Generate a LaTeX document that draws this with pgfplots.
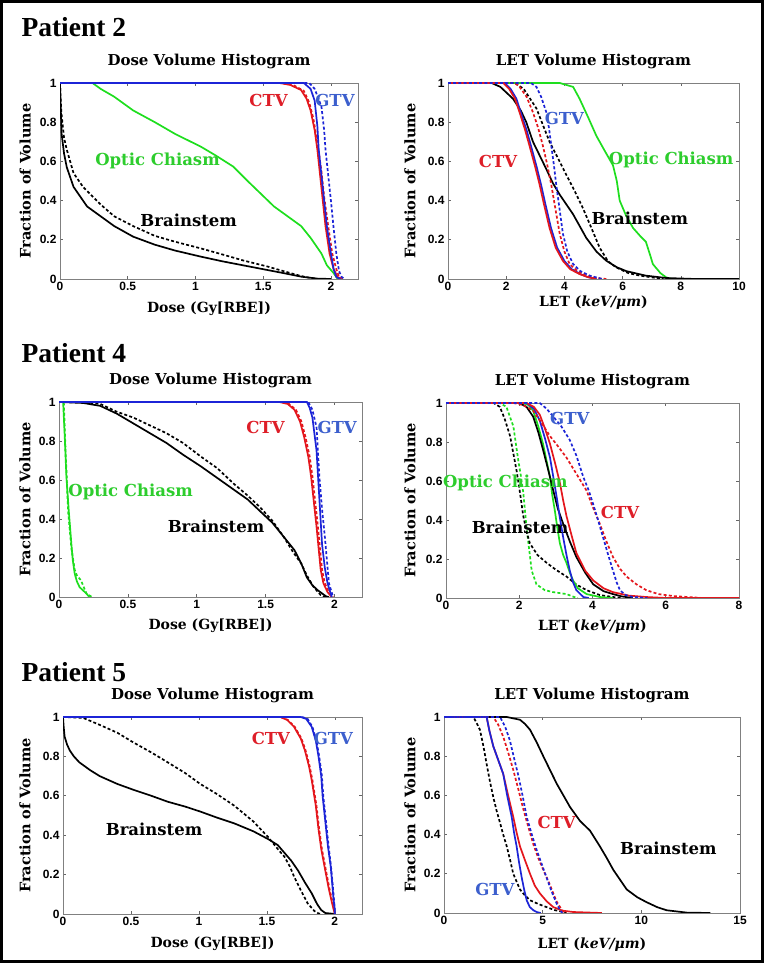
\documentclass[border=0pt]{standalone}
\usepackage{fontspec}
\setmainfont{Liberation Serif}
\newfontfamily\dv{DejaVu Serif}
\newfontfamily\tk{Liberation Sans}
\usepackage{pgfplots}
\pgfplotsset{compat=1.18}
\definecolor{mred}{RGB}{228,22,28}
\definecolor{mblue}{RGB}{28,36,215}
\definecolor{mgreen}{RGB}{30,222,30}
\definecolor{lred}{RGB}{222,30,40}
\definecolor{lblue}{RGB}{60,95,205}
\definecolor{lgreen}{RGB}{45,205,45}
\tikzset{
  dsh/.style={dash pattern=on 3pt off 2.2pt},
  cl/.style={font=\dv\bfseries\fontsize{16.5}{17}\selectfont},
}
\pgfplotsset{
  hist/.style={scale only axis, anchor=south west, xmin=0, ymin=0, ymax=1,
    ytick={0,0.2,0.4,0.6,0.8,1}, yticklabels={0,0.2,0.4,0.6,0.8,1},
    axis line style={black!50}, every tick/.style={black!60, line width=0.6pt},
    tick align=inside, major tick length=3pt,
    ticklabel style={font=\tk\bfseries\fontsize{12}{12}\selectfont},
    /pgf/number format/assume math mode=true,
    title style={font=\dv\bfseries\fontsize{15}{15}\selectfont, at={(0.5,1)}, anchor=base, yshift=11pt},
    xlabel style={font=\dv\bfseries\fontsize{14}{15}\selectfont, at={(axis description cs:0.5,0)}, anchor=base},
    ylabel style={font=\dv\bfseries\fontsize{14.5}{15}\selectfont, anchor=center},
    ylabel={Fraction of Volume},
    clip mode=individual,
    every axis plot/.append style={line width=1.7pt, no marks},
  },
  dose/.style={hist, xmax=2.2, xtick={0,0.5,1,1.5,2}, xticklabels={0,0.5,1,1.5,2},
    title={Dose Volume Histogram}, xlabel={Dose (Gy[RBE])}},
  let/.style={hist, title={LET Volume Histogram}, xlabel={LET ({\itshape keV/μm})}},
}
\begin{document}
\begin{tikzpicture}[x=1pt,y=1pt]
\useasboundingbox (0pt,0pt) rectangle (765pt,966pt);
\fill[white] (0pt,0pt) rectangle (765pt,966pt);
\draw[line width=3pt] (1.5pt,4.5pt) rectangle (762.5pt,964.5pt);
\node[anchor=base west, font=\bfseries\fontsize{27.5}{28}\selectfont] at (18pt,929pt) {Patient 2};
\node[anchor=base west, font=\bfseries\fontsize{27.5}{28}\selectfont] at (18pt,603pt) {Patient 4};
\node[anchor=base west, font=\bfseries\fontsize{27.5}{28}\selectfont] at (18pt,284pt) {Patient 5};

% ---------- Patient 2 DVH
\begin{axis}[dose, at={(60pt,687pt)}, width=298pt, height=196pt,
  ylabel style={at={(axis description cs:-0.117,0.5)}}, xlabel style={yshift=-34pt}]
\addplot[black] coordinates {(0,1)(0.005,0.88)(0.012,0.74)(0.03,0.64)(0.05,0.57)(0.1,0.47)(0.15,0.42)(0.2,0.37)(0.3,0.32)(0.4,0.27)(0.54,0.216)(0.7,0.175)(0.85,0.145)(1.04,0.114)(1.2,0.09)(1.35,0.07)(1.53,0.046)(1.65,0.03)(1.78,0.012)(1.9,0.002)(2.0,0)};
\addplot[black,dsh] coordinates {(0,1)(0.01,0.85)(0.03,0.72)(0.05,0.66)(0.1,0.54)(0.17,0.47)(0.3,0.38)(0.4,0.32)(0.54,0.27)(0.7,0.22)(0.85,0.19)(1.04,0.156)(1.2,0.125)(1.35,0.095)(1.53,0.064)(1.65,0.04)(1.78,0.015)(1.85,0.005)(1.9,0)};
\addplot[mgreen] coordinates {(0,1)(0.24,1)(0.3,0.97)(0.4,0.93)(0.54,0.86)(0.7,0.8)(0.85,0.74)(1.04,0.675)(1.15,0.63)(1.28,0.573)(1.4,0.49)(1.58,0.37)(1.7,0.31)(1.78,0.27)(1.85,0.21)(1.93,0.13)(1.97,0.07)(2.02,0.03)(2.05,0)};
\addplot[mred] coordinates {(0,1)(1.62,1)(1.7,0.99)(1.78,0.964)(1.82,0.92)(1.85,0.86)(1.88,0.76)(1.90,0.66)(1.92,0.53)(1.94,0.40)(1.96,0.27)(1.99,0.13)(2.02,0.05)(2.05,0.01)(2.08,0)};
\addplot[mred,dsh] coordinates {(0,1)(1.64,1)(1.72,0.99)(1.8,0.96)(1.84,0.9)(1.87,0.82)(1.9,0.7)(1.93,0.55)(1.95,0.42)(1.98,0.27)(2.01,0.13)(2.04,0.05)(2.06,0.01)(2.09,0)};
\addplot[mblue] coordinates {(0,1)(1.8,1)(1.85,0.97)(1.88,0.91)(1.9,0.78)(1.91,0.66)(1.93,0.53)(1.95,0.40)(1.97,0.27)(2.0,0.13)(2.02,0.05)(2.04,0.01)(2.07,0)};
\addplot[mblue,dsh] coordinates {(0,1)(1.84,1)(1.88,0.97)(1.93,0.88)(1.95,0.76)(1.96,0.66)(1.98,0.53)(2.0,0.40)(2.02,0.26)(2.04,0.13)(2.06,0.04)(2.08,0.01)(2.1,0)};
\node[cl, text=lred] at (axis cs:1.54,0.91) {CTV};
\node[cl, text=lblue] at (axis cs:2.03,0.91) {GTV};
\node[cl, text=lgreen] at (axis cs:0.72,0.6) {Optic Chiasm};
\node[cl] at (axis cs:0.95,0.30) {Brainstem};
\end{axis}

% ---------- Patient 2 LET
\begin{axis}[let, at={(448pt,687pt)}, width=291pt, height=196pt, xmax=10,
  xtick={0,2,4,6,8,10}, xticklabels={0,2,4,6,8,10},
  ylabel style={at={(axis description cs:-0.131,0.5)}}, xlabel style={yshift=-28pt}]
\addplot[mgreen] coordinates {(0,1)(3.84,1)(4.3,0.98)(4.52,0.92)(4.8,0.83)(5.1,0.73)(5.4,0.65)(5.67,0.58)(5.8,0.5)(5.9,0.40)(6.1,0.33)(6.36,0.26)(6.6,0.22)(6.8,0.19)(6.95,0.12)(7.04,0.076)(7.3,0.03)(7.5,0.008)(7.7,0)(10,0)};
\addplot[black] coordinates {(0,1)(1.5,1)(1.8,0.98)(2.23,0.92)(2.5,0.86)(2.69,0.80)(2.92,0.70)(3.15,0.63)(3.38,0.56)(3.6,0.49)(3.84,0.43)(4.3,0.33)(4.75,0.21)(5.1,0.14)(5.44,0.093)(5.8,0.06)(6.13,0.04)(6.8,0.017)(7.5,0.005)(8.5,0)(10,0)};
\addplot[black,dsh] coordinates {(0,1)(2.3,1)(2.6,0.97)(3.04,0.87)(3.25,0.79)(3.49,0.70)(3.8,0.61)(4.07,0.53)(4.35,0.45)(4.64,0.36)(4.9,0.27)(5.21,0.16)(5.5,0.09)(5.78,0.059)(6.2,0.03)(6.6,0.017)(7.4,0)};
\addplot[mblue] coordinates {(0,1)(1.95,1)(2.15,0.97)(2.35,0.92)(2.5,0.85)(2.7,0.76)(2.85,0.68)(3.05,0.57)(3.2,0.48)(3.35,0.38)(3.54,0.26)(3.75,0.16)(4.0,0.092)(4.25,0.05)(4.55,0.025)(4.8,0.01)(5.1,0)};
\addplot[mred] coordinates {(0,1)(1.9,1)(2.1,0.97)(2.3,0.92)(2.46,0.85)(2.65,0.76)(2.8,0.68)(3.0,0.57)(3.15,0.48)(3.3,0.38)(3.49,0.26)(3.7,0.16)(3.95,0.092)(4.2,0.05)(4.52,0.025)(4.8,0.01)(5.1,0)};
\addplot[mred,dsh] coordinates {(0,1)(2.3,1)(2.46,0.98)(2.7,0.93)(2.92,0.85)(3.1,0.77)(3.26,0.68)(3.4,0.59)(3.55,0.48)(3.7,0.35)(3.84,0.23)(4.0,0.14)(4.18,0.076)(4.45,0.04)(4.75,0.017)(5.1,0.005)(5.44,0)};
\addplot[mblue,dsh] coordinates {(0,1)(2.85,1)(3.04,0.98)(3.2,0.93)(3.38,0.85)(3.47,0.77)(3.55,0.68)(3.64,0.58)(3.72,0.48)(3.84,0.35)(3.95,0.23)(4.1,0.14)(4.3,0.076)(4.55,0.04)(4.87,0.017)(5.3,0)};
\node[cl, text=lblue] at (axis cs:4.0,0.82) {GTV};
\node[cl, text=lred] at (axis cs:1.72,0.6) {CTV};
\node[cl, text=lgreen] at (axis cs:7.67,0.605) {Optic Chiasm};
\node[cl] at (axis cs:6.59,0.31) {Brainstem};
\end{axis}

% ---------- Patient 4 DVH
\begin{axis}[dose, at={(59pt,369pt)}, width=303pt, height=195pt,
  ylabel style={at={(axis description cs:-0.112,0.5)}}, xlabel style={yshift=-33pt}]
\addplot[mgreen] coordinates {(0,1)(0.03,1)(0.04,0.85)(0.054,0.615)(0.07,0.45)(0.09,0.27)(0.1,0.19)(0.114,0.12)(0.13,0.08)(0.15,0.05)(0.2,0.017)(0.22,0)};
\addplot[mgreen,dsh] coordinates {(0,1)(0.035,1)(0.045,0.8)(0.066,0.44)(0.09,0.25)(0.114,0.14)(0.13,0.11)(0.16,0.085)(0.18,0.05)(0.2,0.017)(0.24,0)};
\addplot[black] coordinates {(0,1)(0.175,0.995)(0.3,0.98)(0.42,0.94)(0.54,0.89)(0.66,0.84)(0.78,0.79)(0.9,0.73)(1.03,0.67)(1.15,0.61)(1.27,0.55)(1.37,0.5)(1.46,0.44)(1.55,0.38)(1.63,0.31)(1.71,0.24)(1.76,0.17)(1.8,0.10)(1.84,0.06)(1.88,0.034)(1.94,0.003)(1.96,0)};
\addplot[black,dsh] coordinates {(0,1)(0.2,0.998)(0.3,0.99)(0.42,0.95)(0.54,0.92)(0.66,0.88)(0.78,0.84)(0.9,0.79)(1.03,0.72)(1.15,0.66)(1.27,0.58)(1.37,0.52)(1.46,0.46)(1.55,0.39)(1.63,0.31)(1.7,0.23)(1.76,0.17)(1.8,0.11)(1.85,0.05)(1.9,0.01)(1.93,0)};
\addplot[mred] coordinates {(0,1)(1.6,1)(1.66,0.99)(1.71,0.96)(1.75,0.9)(1.78,0.82)(1.81,0.72)(1.83,0.62)(1.85,0.49)(1.87,0.36)(1.885,0.25)(1.9,0.14)(1.92,0.07)(1.95,0.025)(1.98,0)};
\addplot[mred,dsh] coordinates {(0,1)(1.61,1)(1.67,0.99)(1.72,0.96)(1.76,0.9)(1.79,0.82)(1.82,0.72)(1.84,0.62)(1.86,0.49)(1.88,0.36)(1.895,0.25)(1.91,0.14)(1.93,0.07)(1.96,0.025)(1.99,0)};
\addplot[mblue] coordinates {(0,1)(1.8,1)(1.82,0.97)(1.84,0.92)(1.87,0.75)(1.89,0.51)(1.91,0.27)(1.93,0.15)(1.95,0.07)(1.98,0)};
\addplot[mblue,dsh] coordinates {(0,1)(1.81,1)(1.84,0.96)(1.87,0.87)(1.89,0.62)(1.91,0.45)(1.93,0.31)(1.95,0.15)(1.96,0.07)(1.99,0)};
\node[cl, text=lred] at (axis cs:1.5,0.87) {CTV};
\node[cl, text=lblue] at (axis cs:2.02,0.87) {GTV};
\node[cl, text=lgreen] at (axis cs:0.52,0.54) {Optic Chiasm};
\node[cl] at (axis cs:1.14,0.36) {Brainstem};
\end{axis}

% ---------- Patient 4 LET
\begin{axis}[let, at={(446pt,368pt)}, width=293pt, height=195pt, xmax=8,
  xtick={0,2,4,6,8}, xticklabels={0,2,4,6,8},
  ylabel style={at={(axis description cs:-0.123,0.5)}}, xlabel style={yshift=-33pt}]
\addplot[mgreen,dsh] coordinates {(0,1)(1.47,1)(1.65,0.98)(1.84,0.88)(1.97,0.71)(2.05,0.62)(2.11,0.54)(2.2,0.36)(2.27,0.25)(2.34,0.14)(2.47,0.07)(2.7,0.04)(2.93,0.03)(3.29,0.02)(3.5,0.005)(3.6,0)};
\addplot[black,dsh] coordinates {(0,1)(1.3,1)(1.47,0.98)(1.6,0.92)(1.75,0.83)(1.93,0.65)(2.02,0.54)(2.11,0.42)(2.2,0.34)(2.29,0.28)(2.5,0.22)(2.75,0.18)(3.0,0.145)(3.29,0.11)(3.55,0.07)(3.84,0.04)(4.2,0.015)(4.56,0.005)(4.8,0)};
\addplot[mgreen] coordinates {(0,1)(2.1,1)(2.25,0.99)(2.38,0.96)(2.52,0.88)(2.65,0.79)(2.75,0.70)(2.84,0.62)(2.9,0.53)(2.97,0.45)(3.04,0.36)(3.11,0.28)(3.2,0.22)(3.29,0.18)(3.38,0.13)(3.47,0.09)(3.6,0.05)(3.84,0.02)(4.2,0.005)(4.56,0)};
\addplot[black] coordinates {(0,1)(2.0,1)(2.2,0.98)(2.38,0.93)(2.52,0.85)(2.65,0.76)(2.8,0.65)(2.93,0.55)(3.05,0.46)(3.2,0.38)(3.38,0.29)(3.56,0.21)(3.8,0.13)(4.02,0.07)(4.3,0.035)(4.56,0.02)(4.8,0.008)(5.1,0)};
\addplot[mblue] coordinates {(0,1)(2.2,1)(2.4,0.97)(2.56,0.91)(2.7,0.82)(2.84,0.72)(2.93,0.62)(3.02,0.52)(3.11,0.41)(3.2,0.31)(3.29,0.22)(3.38,0.14)(3.47,0.08)(3.56,0.04)(3.75,0.005)(3.9,0)};
\addplot[mred] coordinates {(0,1)(2.2,1)(2.4,0.98)(2.56,0.94)(2.7,0.87)(2.84,0.79)(2.98,0.69)(3.11,0.59)(3.2,0.5)(3.29,0.42)(3.43,0.32)(3.56,0.23)(3.8,0.14)(4.02,0.09)(4.3,0.05)(4.56,0.03)(5.0,0.012)(5.47,0.005)(6,0)(8,0)};
\addplot[mred,dsh] coordinates {(0,1)(1.84,1)(2.1,0.99)(2.38,0.96)(2.6,0.9)(2.84,0.83)(3.05,0.78)(3.29,0.72)(3.55,0.64)(3.84,0.55)(4.0,0.47)(4.2,0.38)(4.38,0.29)(4.56,0.21)(4.75,0.15)(4.93,0.11)(5.2,0.07)(5.47,0.04)(5.8,0.02)(6.2,0.01)(7,0)(8,0)};
\addplot[mblue,dsh] coordinates {(0,1)(2.56,1)(2.75,0.97)(2.93,0.93)(3.15,0.88)(3.38,0.81)(3.56,0.73)(3.75,0.62)(3.9,0.55)(4.02,0.48)(4.15,0.4)(4.29,0.31)(4.43,0.22)(4.56,0.14)(4.66,0.08)(4.75,0.04)(4.9,0.015)(5.1,0.005)(5.5,0)};
\node[cl, text=lblue] at (axis cs:3.38,0.92) {GTV};
\node[cl, text=lred] at (axis cs:4.75,0.44) {CTV};
\node[cl, text=lgreen] at (axis cs:1.62,0.59) {Optic Chiasm};
\node[cl] at (axis cs:2.02,0.36) {Brainstem};
\end{axis}

% ---------- Patient 5 DVH
\begin{axis}[dose, at={(63pt,52pt)}, width=299pt, height=197pt,
  ylabel style={at={(axis description cs:-0.127,0.5)}}, xlabel style={yshift=-34pt}]
\addplot[black] coordinates {(0,1)(0.005,0.95)(0.012,0.90)(0.03,0.86)(0.05,0.83)(0.08,0.8)(0.12,0.77)(0.2,0.73)(0.27,0.70)(0.4,0.66)(0.52,0.63)(0.65,0.6)(0.77,0.57)(0.9,0.545)(1.01,0.52)(1.13,0.49)(1.26,0.46)(1.4,0.42)(1.51,0.38)(1.58,0.35)(1.63,0.31)(1.68,0.27)(1.73,0.22)(1.78,0.16)(1.83,0.105)(1.87,0.05)(1.9,0.02)(1.93,0.005)(2.0,0)};
\addplot[black,dsh] coordinates {(0,1)(0.15,0.995)(0.27,0.96)(0.4,0.92)(0.52,0.87)(0.65,0.82)(0.77,0.77)(0.9,0.715)(1.01,0.66)(1.13,0.61)(1.26,0.55)(1.4,0.47)(1.51,0.39)(1.58,0.33)(1.63,0.29)(1.67,0.24)(1.7,0.19)(1.75,0.12)(1.8,0.054)(1.85,0.015)(1.88,0.003)(1.9,0)};
\addplot[mred] coordinates {(0,1)(1.6,1)(1.65,0.985)(1.7,0.95)(1.75,0.89)(1.78,0.83)(1.81,0.75)(1.83,0.68)(1.86,0.55)(1.88,0.43)(1.9,0.33)(1.93,0.22)(1.955,0.13)(1.98,0.054)(2.0,0)};
\addplot[mred,dsh] coordinates {(0,1)(1.6,1)(1.655,0.985)(1.705,0.95)(1.755,0.89)(1.785,0.83)(1.815,0.75)(1.835,0.68)(1.865,0.55)(1.885,0.43)(1.905,0.33)(1.935,0.22)(1.96,0.13)(1.985,0.054)(2.0,0)};
\addplot[mblue] coordinates {(0,1)(1.75,1)(1.79,0.99)(1.83,0.95)(1.86,0.88)(1.88,0.80)(1.9,0.70)(1.91,0.60)(1.93,0.47)(1.95,0.34)(1.97,0.24)(1.98,0.16)(1.99,0.08)(2.0,0.02)(2.0,0)};
\addplot[mblue,dsh] coordinates {(0,1)(1.76,1)(1.8,0.99)(1.835,0.95)(1.865,0.88)(1.885,0.80)(1.905,0.70)(1.915,0.60)(1.935,0.47)(1.955,0.34)(1.972,0.24)(1.983,0.16)(1.993,0.08)(2.0,0.02)(2.0,0)};
\node[cl, text=lred] at (axis cs:1.53,0.89) {CTV};
\node[cl, text=lblue] at (axis cs:1.99,0.89) {GTV};
\node[cl] at (axis cs:0.67,0.43) {Brainstem};
\end{axis}

% ---------- Patient 5 LET
\begin{axis}[let, at={(444pt,53pt)}, width=296pt, height=196pt, xmax=15,
  xtick={0,5,10,15}, xticklabels={0,5,10,15},
  ylabel style={at={(axis description cs:-0.115,0.5)}}, xlabel style={yshift=-35pt}]
\addplot[black] coordinates {(0,1)(3.18,1)(3.85,0.986)(4.1,0.965)(4.36,0.935)(4.7,0.87)(5.03,0.80)(5.37,0.73)(5.71,0.66)(6.05,0.6)(6.39,0.54)(6.89,0.47)(7.4,0.42)(7.9,0.34)(8.25,0.28)(8.58,0.22)(9.26,0.12)(9.8,0.08)(10.27,0.055)(10.8,0.03)(11.28,0.014)(12.3,0.002)(13.5,0)};
\addplot[black,dsh] coordinates {(0,1)(1.49,1)(1.65,0.97)(1.82,0.935)(2.0,0.85)(2.16,0.76)(2.33,0.67)(2.5,0.59)(2.67,0.52)(2.84,0.46)(3.0,0.40)(3.18,0.34)(3.35,0.27)(3.51,0.20)(3.68,0.16)(3.85,0.12)(4.1,0.09)(4.36,0.065)(4.8,0.045)(5.2,0.03)(5.6,0.015)(6.05,0.005)(6.2,0)};
\addplot[mred] coordinates {(0,1)(2.16,1)(2.3,0.93)(2.5,0.85)(2.75,0.78)(3.0,0.71)(3.25,0.6)(3.51,0.49)(3.68,0.41)(3.85,0.34)(4.1,0.27)(4.36,0.20)(4.6,0.14)(4.86,0.10)(5.2,0.06)(5.54,0.03)(6.0,0.012)(6.55,0.005)(8.0,0)};
\addplot[mblue] coordinates {(0,1)(2.16,1)(2.3,0.93)(2.5,0.85)(2.75,0.78)(3.0,0.71)(3.2,0.6)(3.43,0.49)(3.55,0.41)(3.68,0.34)(3.8,0.26)(3.94,0.18)(4.06,0.12)(4.19,0.065)(4.35,0.03)(4.53,0.014)(4.7,0.005)(4.9,0)};
\addplot[mred,dsh] coordinates {(0,1)(2.5,1)(2.75,0.96)(3.0,0.90)(3.25,0.82)(3.51,0.73)(3.77,0.63)(4.02,0.53)(4.27,0.44)(4.53,0.35)(4.78,0.28)(5.03,0.22)(5.3,0.16)(5.54,0.10)(5.7,0.06)(5.88,0.03)(6.0,0.01)(6.2,0)};
\addplot[mblue,dsh] coordinates {(0,1)(2.84,1)(3.1,0.95)(3.34,0.88)(3.55,0.79)(3.77,0.70)(4.0,0.59)(4.19,0.49)(4.45,0.40)(4.7,0.32)(4.95,0.25)(5.2,0.18)(5.45,0.11)(5.71,0.048)(5.85,0.02)(6.0,0)};
\node[cl, text=lred] at (axis cs:5.71,0.46) {CTV};
\node[cl] at (axis cs:11.37,0.33) {Brainstem};
\node[cl, text=lblue] at (axis cs:2.58,0.12) {GTV};
\end{axis}
\end{tikzpicture}
\end{document}
